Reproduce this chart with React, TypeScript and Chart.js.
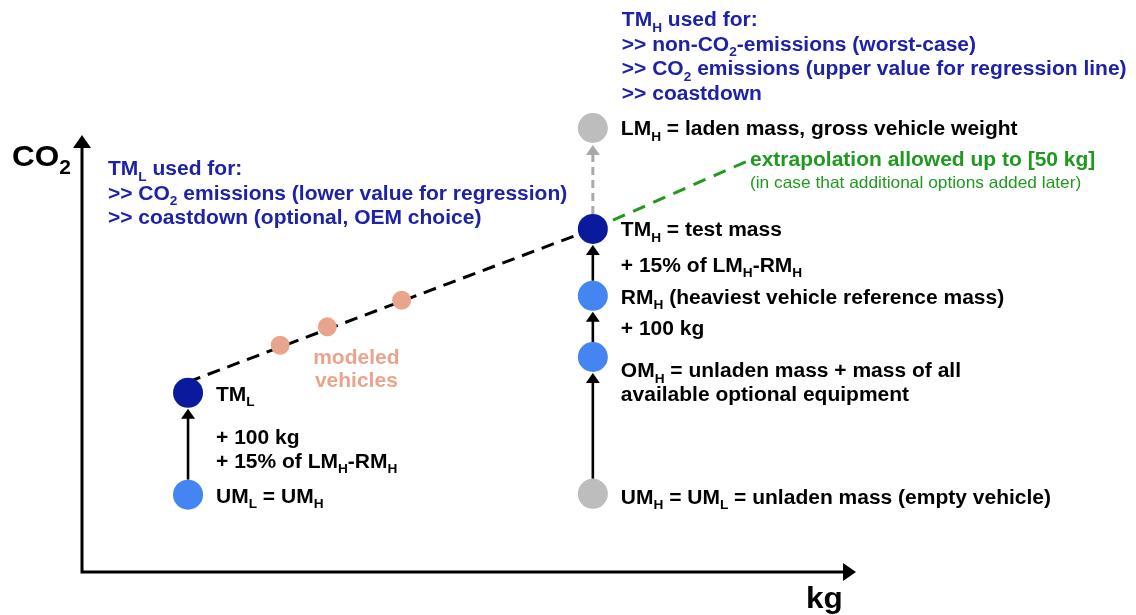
import React, { useEffect, useRef } from "react";
import { Chart, registerables } from "chart.js";

Chart.register(...registerables);

// ---- data (mass axis "kg" 0..100, CO2 axis 0..100, arbitrary units) ----
const pointNames = ["UM_L", "TM_L", "UM_H", "OM_H", "RM_H", "TM_H", "LM_H"];
const pointMass = [13.7, 13.7, 66.0, 66.0, 66.0, 66.0, 66.0];
const pointCO2 = [17.7, 41.0, 17.9, 49.2, 63.2, 78.5, 101.6];
const pointKind = ["base", "test", "ref", "base", "base", "test", "ref"];

const modeledMass = [25.6, 31.7, 41.3];
const modeledCO2 = [51.9, 56.1, 62.2];

const regressionMass = [13.7, 66.0];
const regressionCO2 = [43.5, 78.5];

const extrapolationMass = [66.0, 86.3];
const extrapolationCO2 = [78.5, 94.3];

// arrows between points (index pairs)
const solidArrows = [
  [0, 1],
  [2, 3],
  [3, 4],
  [4, 5],
];
const dashedArrows = [[5, 6]];

// point labels: [point index, text lines]
const pointLabels: [number, string[]][] = [
  [0, ["UM_L = UM_H"]],
  [1, ["TM_L"]],
  [2, ["UM_H = UM_L = unladen mass (empty vehicle)"]],
  [3, ["OM_H = unladen mass + mass of all", "available optional equipment"]],
  [4, ["RM_H (heaviest vehicle reference mass)"]],
  [5, ["TM_H = test mass"]],
  [6, ["LM_H = laden mass, gross vehicle weight"]],
];
const labelShift = [1, 1, 3, 13, 1, 0, 0];
const stepLabelsLow = ["+ 100 kg", "+ 15% of LM_H-RM_H"];
const stepLabelHighA = "+ 15% of LM_H-RM_H";
const stepLabelHighB = "+ 100 kg";

const noteLow = [
  "TM_L used for:",
  ">> CO_2 emissions (lower value for regression)",
  ">> coastdown (optional, OEM choice)",
];
const noteHigh = [
  "TM_H used for:",
  ">> non-CO_2-emissions (worst-case)",
  ">> CO_2 emissions (upper value for regression line)",
  ">> coastdown",
];
const extrapolationTitle = "extrapolation allowed up to [50 kg]";
const extrapolationNote = "(in case that additional options added later)";
const modeledLabel = ["modeled", "vehicles"];
const yAxisLabel = "CO_2";
const xAxisLabel = "kg";

// ---- styles ----
const FONT = '"Liberation Sans", Arial, Helvetica, sans-serif';
const NAVY = "#0b1a9c";
const BLUE = "#4485f2";
const GREY = "#bdbdbd";
const SALMON = "#e9a48e";
const TEXT_BLUE = "#1d22a6";
const GREEN = "#1f9a1f";
const kindColor: Record<string, string> = { base: BLUE, test: NAVY, ref: GREY };
const FS = 20;
const SX = 1.05;

function drawRich(
  ctx: CanvasRenderingContext2D,
  text: string,
  x: number,
  midY: number,
  size: number,
  color: string,
  weight = "bold",
  align: "left" | "center" = "left"
) {
  const runs: { t: string; sub: boolean }[] = [];
  let cur = "";
  for (let i = 0; i < text.length; i++) {
    const c = text[i];
    if (c === "_" && i + 1 < text.length) {
      if (cur) runs.push({ t: cur, sub: false });
      cur = "";
      runs.push({ t: text[i + 1], sub: true });
      i++;
    } else cur += c;
  }
  if (cur) runs.push({ t: cur, sub: false });
  const subSize = Math.round(size * 0.66);
  const baseline = midY + size * 0.36;
  ctx.save();
  ctx.fillStyle = color;
  ctx.textBaseline = "alphabetic";
  ctx.textAlign = "left";
  let total = 0;
  const widths = runs.map((r) => {
    ctx.font = `${weight} ${r.sub ? subSize : size}px ${FONT}`;
    const w = ctx.measureText(r.t).width;
    total += w;
    return w;
  });
  const startX = align === "center" ? x - (total * SX) / 2 : x;
  ctx.translate(startX, 0);
  ctx.scale(SX, 1);
  let cx = 0;
  runs.forEach((r, i) => {
    ctx.font = `${weight} ${r.sub ? subSize : size}px ${FONT}`;
    ctx.fillText(r.t, cx, r.sub ? baseline + size * 0.27 : baseline);
    cx += widths[i];
  });
  ctx.restore();
}

function arrowHead(ctx: CanvasRenderingContext2D, x: number, tipY: number, len: number, half: number, color: string) {
  ctx.save();
  ctx.fillStyle = color;
  ctx.beginPath();
  ctx.moveTo(x, tipY);
  ctx.lineTo(x - half, tipY + len);
  ctx.lineTo(x + half, tipY + len);
  ctx.closePath();
  ctx.fill();
  ctx.restore();
}

const R = 15;

const diagramPlugin = {
  id: "diagram",
  beforeDatasetsDraw(chart: any) {
    const ctx: CanvasRenderingContext2D = chart.ctx;
    const { left, right, top, bottom } = chart.chartArea;
    const xs = chart.scales.x;
    const ys = chart.scales.y;
    // axes
    ctx.save();
    ctx.strokeStyle = "#000";
    ctx.fillStyle = "#000";
    ctx.lineWidth = 3;
    ctx.beginPath();
    ctx.moveTo(left, bottom + 1.5);
    ctx.lineTo(left, top + 10);
    ctx.moveTo(left - 1.5, bottom);
    ctx.lineTo(right - 10, bottom);
    ctx.stroke();
    ctx.beginPath();
    ctx.moveTo(left, top);
    ctx.lineTo(left - 9, top + 13);
    ctx.lineTo(left + 9, top + 13);
    ctx.closePath();
    ctx.fill();
    ctx.beginPath();
    ctx.moveTo(right, bottom);
    ctx.lineTo(right - 13, bottom - 9);
    ctx.lineTo(right - 13, bottom + 9);
    ctx.closePath();
    ctx.fill();
    ctx.restore();

    // arrows between points
    solidArrows.forEach(([a, b]) => {
      const x = xs.getPixelForValue(pointMass[a]);
      const y0 = ys.getPixelForValue(pointCO2[a]) - R;
      const y1 = ys.getPixelForValue(pointCO2[b]) + R + 1;
      ctx.save();
      ctx.strokeStyle = "#000";
      ctx.lineWidth = 2.6;
      ctx.beginPath();
      ctx.moveTo(x, y0);
      ctx.lineTo(x, y1 + 8);
      ctx.stroke();
      ctx.restore();
      arrowHead(ctx, x, y1, 10, 7, "#000");
    });
    dashedArrows.forEach(([a, b]) => {
      const x = xs.getPixelForValue(pointMass[a]);
      const y0 = ys.getPixelForValue(pointCO2[a]) - R;
      const y1 = ys.getPixelForValue(pointCO2[b]) + R + 2;
      ctx.save();
      ctx.strokeStyle = "#a9a9a9";
      ctx.lineWidth = 3;
      ctx.setLineDash([8, 5]);
      ctx.beginPath();
      ctx.moveTo(x, y0);
      ctx.lineTo(x, y1 + 10);
      ctx.stroke();
      ctx.restore();
      arrowHead(ctx, x, y1, 10, 7, "#a9a9a9");
    });
  },
  afterDatasetsDraw(chart: any) {
    const ctx: CanvasRenderingContext2D = chart.ctx;
    const { left, right, top, bottom } = chart.chartArea;
    const xs = chart.scales.x;
    const ys = chart.scales.y;
    const px = (i: number) => xs.getPixelForValue(pointMass[i]);
    const py = (i: number) => ys.getPixelForValue(pointCO2[i]);

    pointLabels.forEach(([i, lines]) => {
      lines.forEach((t, k) => drawRich(ctx, t, px(i) + 28, py(i) + labelShift[i] + k * 24, FS, "#000"));
    });
    // step labels
    stepLabelsLow.forEach((t, k) => drawRich(ctx, t, px(0) + 28, py(1) + 44 + k * 24, FS, "#000"));
    drawRich(ctx, stepLabelHighA, px(5) + 28, (py(5) + py(4)) / 2 + 2, FS, "#000");
    drawRich(ctx, stepLabelHighB, px(4) + 28, (py(4) + py(3)) / 2 + 1, FS, "#000");

    // notes
    noteLow.forEach((t, k) => drawRich(ctx, t, left + 26, top + 33 + k * 24.5, FS, TEXT_BLUE));
    noteHigh.forEach((t, k) => drawRich(ctx, t, px(5) + 29, 19 + k * 24.5, FS, TEXT_BLUE));

    // extrapolation
    const ex = xs.getPixelForValue(extrapolationMass[1]);
    const ey = ys.getPixelForValue(extrapolationCO2[1]);
    drawRich(ctx, extrapolationTitle, ex, ey - 1, FS, GREEN);
    drawRich(ctx, extrapolationNote, ex, ey + 22, 16.5, GREEN, "normal");

    // modeled vehicles
    const mx = xs.getPixelForValue(modeledMass[1]) + 29;
    const my = ys.getPixelForValue(modeledCO2[1]);
    modeledLabel.forEach((t, k) => drawRich(ctx, t, mx, my + 30 + k * 23, FS, SALMON, "bold", "center"));

    // axis titles
    drawRich(ctx, yAxisLabel, 12, top + 20, 30, "#000");
    drawRich(ctx, xAxisLabel, right - 50, bottom + 25, 30, "#000");
  },
};

export default function App() {
  const ref = useRef<HTMLCanvasElement>(null);
  useEffect(() => {
    if (!ref.current) return;
    const chart = new Chart(ref.current, {
      type: "scatter",
      data: {
        datasets: [
          {
            label: "masses",
            data: pointMass.map((m, i) => ({ x: m, y: pointCO2[i] })),
            backgroundColor: pointKind.map((k) => kindColor[k]),
            borderWidth: 0,
            pointRadius: R,
            pointHoverRadius: R,
            clip: false as any,
            order: 0,
          },
          {
            label: "modeled vehicles",
            data: modeledMass.map((m, i) => ({ x: m, y: modeledCO2[i] })),
            backgroundColor: SALMON,
            borderWidth: 0,
            pointRadius: 9.5,
            pointHoverRadius: 9.5,
            order: 1,
          },
          {
            label: "regression",
            type: "line" as any,
            data: regressionMass.map((m, i) => ({ x: m, y: regressionCO2[i] })),
            borderColor: "#000",
            borderWidth: 3,
            borderDash: [13, 8],
            pointRadius: 0,
            fill: false,
            order: 5,
          },
          {
            label: "extrapolation",
            type: "line" as any,
            data: extrapolationMass.map((m, i) => ({ x: m, y: extrapolationCO2[i] })),
            borderColor: GREEN,
            borderWidth: 3,
            borderDash: [13, 9],
            pointRadius: 0,
            fill: false,
            order: 5,
          },
        ],
      },
      options: {
        animation: false,
        responsive: false,
        events: [],
        layout: { padding: { left: 82, right: 1136 - 856, top: 135, bottom: 615 - 572 } },
        scales: {
          x: { type: "linear", min: 0, max: 100, display: false },
          y: { type: "linear", min: 0, max: 100, display: false },
        },
        plugins: { legend: { display: false }, tooltip: { enabled: false } },
      },
      plugins: [diagramPlugin],
    });
    return () => chart.destroy();
  }, []);
  return (
    <div style={{ position: "fixed", left: 0, top: 0, width: 1136, height: 615, background: "#fff" }}>
      <canvas ref={ref} width={1136} height={615} style={{ display: "block" }} />
    </div>
  );
}
